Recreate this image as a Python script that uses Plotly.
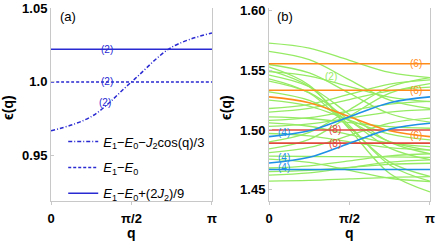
import numpy as np
import plotly.graph_objects as go

# ---------------- data ----------------
q_pts = [0, np.pi / 4, np.pi / 2, 3 * np.pi / 4, np.pi]
x_tick_vals = [0, np.pi / 2, np.pi]
x_tick_text = ["0", "π/2", "π"]

# panel (a)
a_names = ["<i>E</i><sub>1</sub>−<i>E</i><sub>0</sub>−<i>J</i><sub>2</sub>cos(q)/3",
           "<i>E</i><sub>1</sub>−<i>E</i><sub>0</sub>",
           "<i>E</i><sub>1</sub>−<i>E</i><sub>0</sub>+(2<i>J</i><sub>2</sub>)/9"]
a_dashdot = [0.9667, 0.9764, 1.0, 1.0236, 1.0333]
a_dashed = [1.0, 1.0, 1.0, 1.0, 1.0]
a_solid = [1.0222, 1.0222, 1.0222, 1.0222, 1.0222]
a_ytick_vals = [0.95, 1.0, 1.05]
a_ytick_text = ["0.95", "1.0", "1.05"]

# panel (b) degeneracy-2 bands (green)
b_green = [
    [1.573, 1.5688, 1.5585, 1.5483, 1.544],
    [1.566, 1.5590, 1.542, 1.5250, 1.518],
    [1.555, 1.5479, 1.5308, 1.5136, 1.5065],
    [1.553, 1.5376, 1.5005, 1.4634, 1.448],
    [1.550, 1.5364, 1.5035, 1.4706, 1.457],
    [1.543, 1.5310, 1.502, 1.4730, 1.461],
    [1.541, 1.5313, 1.508, 1.4847, 1.475],
    [1.532, 1.5248, 1.5075, 1.4902, 1.483],
    [1.525, 1.5201, 1.5083, 1.4965, 1.4916],
    [1.518, 1.5215, 1.530, 1.5385, 1.542],
    [1.515, 1.5181, 1.5255, 1.5329, 1.536],
    [1.511, 1.5096, 1.5062, 1.5028, 1.5014],
    [1.508, 1.5103, 1.516, 1.5217, 1.524],
    [1.506, 1.5031, 1.496, 1.4889, 1.486],
    [1.503, 1.5051, 1.510, 1.5150, 1.517],
    [1.484, 1.4921, 1.5115, 1.5310, 1.539],
    [1.481, 1.4853, 1.4955, 1.5058, 1.510],
    [1.478, 1.4777, 1.4775, 1.4773, 1.477],
    [1.468, 1.4698, 1.474, 1.4782, 1.480],
    [1.465, 1.4660, 1.4685, 1.4710, 1.472],
    [1.462, 1.4639, 1.4684, 1.4729, 1.4748],
    [1.457, 1.4576, 1.4589, 1.4602, 1.4608],
    [1.490, 1.4979, 1.517, 1.5361, 1.544],
    [1.497, 1.4950, 1.490, 1.4851, 1.483],
    [1.546, 1.5363, 1.513, 1.4897, 1.480],
    [1.4755, 1.4727, 1.4661, 1.4594, 1.4566],
    [1.549, 1.5453, 1.5364, 1.5275, 1.5238],
]
b_orange = [
    [1.5556, 1.5556, 1.5556, 1.5556, 1.5556],
    [1.5333, 1.5333, 1.5333, 1.5333, 1.5333],
    [1.5278, 1.5229, 1.5111, 1.4993, 1.4944],
]
b_blue = [
    [1.4944, 1.4993, 1.5111, 1.5229, 1.5278],
    [1.4722, 1.4771, 1.4889, 1.5007, 1.5056],
    [1.4667, 1.4667, 1.4667, 1.4667, 1.4667],
]
b_red = [
    [1.5, 1.5, 1.5, 1.5, 1.5],
    [1.4889, 1.4889, 1.4889, 1.4889, 1.4889],
]
b_ytick_vals = [1.45, 1.50, 1.55, 1.60]
b_ytick_text = ["1.45", "1.50", "1.55", "1.60"]

# ---------------- style ----------------
FONT = "Liberation Sans, Arial, sans-serif"
A_BLUE = "#2A2AD2"
GREEN = "#96EB64"
ORANGE = "#FF8C1A"
BLUE = "#1E90E6"
RED = "#E0483C"
FRAME = "#C8C8C8"

fig = go.Figure()

# panel (a)
for i, (name, ys, dash) in enumerate(zip(a_names, [a_dashdot, a_dashed, a_solid],
                                         ["4px,2px,1px,2px", "3px,2px", "solid"])):
    fig.add_trace(go.Scatter(x=q_pts, y=ys, mode="lines", name=name, legendgroup=f"g{i}",
                             line=dict(color=A_BLUE, width=1.5, dash=dash, shape="spline"),
                             xaxis="x", yaxis="y", showlegend=True))

# panel (b)
for ys in b_green:
    fig.add_trace(go.Scatter(x=q_pts, y=ys, mode="lines", showlegend=False,
                             line=dict(color=GREEN, width=1.3, shape="spline"),
                             xaxis="x2", yaxis="y2"))
for group, col in [(b_red, RED), (b_orange, ORANGE), (b_blue, BLUE)]:
    for ys in group:
        fig.add_trace(go.Scatter(x=q_pts, y=ys, mode="lines", showlegend=False,
                                 line=dict(color=col, width=1.6, shape="spline"),
                                 xaxis="x2", yaxis="y2"))

axis_common = dict(showgrid=False, zeroline=False, showline=True, linecolor=FRAME,
                   linewidth=1, ticklen=3, tickcolor=FRAME,
                   tickfont=dict(family=FONT, size=13, color="black", weight="bold"),
                   automargin=False)

fig.update_layout(
    width=436, height=241,
    margin=dict(l=0, r=0, t=0, b=0),
    paper_bgcolor="white", plot_bgcolor="white",
    xaxis=dict(domain=[0.1170, 0.4862], range=[0, np.pi], tickvals=x_tick_vals,
               ticktext=x_tick_text, anchor="y", mirror=False, ticks="outside",
               ticklabelstandoff=2, **axis_common),
    yaxis=dict(domain=[0.166, 0.967], range=[0.9190, 1.0503], tickvals=a_ytick_vals,
               ticktext=a_ytick_text, anchor="x", mirror=True, ticks="inside",
               **axis_common),
    xaxis2=dict(domain=[0.6170, 0.9862], range=[0, np.pi], tickvals=x_tick_vals,
                ticktext=x_tick_text, anchor="y2", mirror=False, ticks="outside",
                ticklabelstandoff=2, **axis_common),
    yaxis2=dict(domain=[0.166, 0.967], range=[1.4403, 1.6025], tickvals=b_ytick_vals,
                ticktext=b_ytick_text, anchor="x2", mirror=True, ticks="inside",
                **axis_common),
    legend=dict(x=0.145, y=0.475, xanchor="left", yanchor="top",
                bgcolor="rgba(0,0,0,0)", font=dict(family=FONT, size=13, color="black"),
                itemwidth=30, tracegroupgap=6),
    showlegend=True,
)

ann = []
def label(text, x, y, xref, yref, color, size=10):
    ann.append(dict(text=text, x=x, y=y, xref=xref, yref=yref, showarrow=False,
                    font=dict(family=FONT, size=size, color=color)))

# panel labels
ann.append(dict(text="(a)", x=0.133, y=0.93, xref="paper", yref="paper", showarrow=False,
                xanchor="left", yanchor="middle", font=dict(family=FONT, size=13, color="black")))
ann.append(dict(text="(b)", x=0.631, y=0.93, xref="paper", yref="paper", showarrow=False,
                xanchor="left", yanchor="middle", font=dict(family=FONT, size=13, color="black")))

# degeneracy labels panel (a)
label("(2)", 1.09, a_solid[0], "x", "y", A_BLUE)
label("(2)", 1.09, a_dashed[0], "x", "y", A_BLUE)
label("(2)", 1.05, 0.9857, "x", "y", A_BLUE)

# degeneracy labels panel (b)
label("(6)", 2.87, b_orange[0][0], "x2", "y2", ORANGE)
label("(6)", 2.87, b_orange[1][0], "x2", "y2", ORANGE)
label("(6)", 2.87, 1.4955, "x2", "y2", ORANGE)
label("(4)", 0.30, 1.4975, "x2", "y2", BLUE)
label("(4)", 0.30, 1.4772, "x2", "y2", BLUE)
label("(4)", 0.30, 1.4683, "x2", "y2", BLUE)
label("(8)", 1.28, b_red[0][0], "x2", "y2", RED)
label("(8)", 1.28, b_red[1][0], "x2", "y2", RED)
label("(2)", 1.21, 1.5445, "x2", "y2", GREEN)

# axis titles
for xc in [0.020, 0.520]:
    ann.append(dict(text="<b>ϵ(q)</b>", x=xc, y=0.555, xref="paper", yref="paper",
                    showarrow=False, textangle=-90, xanchor="center", yanchor="middle",
                    font=dict(family=FONT, size=14, color="black")))
for xc in [0.3016, 0.8016]:
    ann.append(dict(text="<b>q</b>", x=xc, y=0.032, xref="paper", yref="paper",
                    showarrow=False, xanchor="center", yanchor="middle",
                    font=dict(family=FONT, size=14, color="black")))

fig.update_layout(annotations=ann)
fig.write_html("out.html", config={"displayModeBar": False},
               post_script="document.body.style.margin='0';document.body.style.overflow='hidden';")
